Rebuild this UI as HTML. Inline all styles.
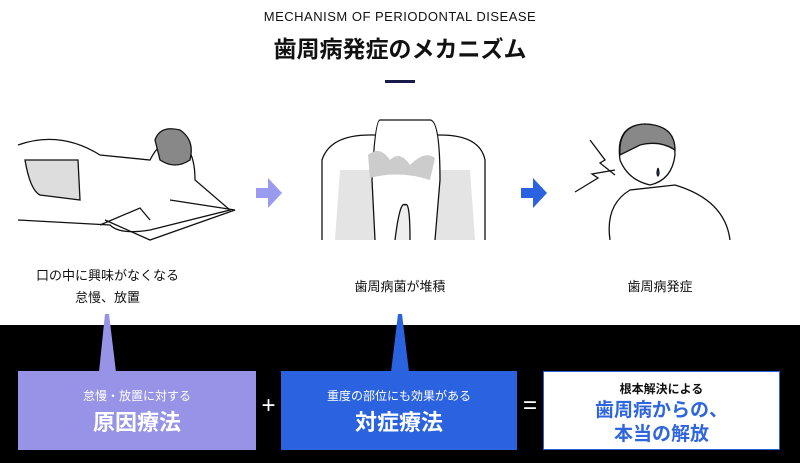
<!DOCTYPE html>
<html><head><meta charset="utf-8"><style>
body{margin:0;width:800px;height:463px;overflow:hidden;background:#fff;font-family:"Liberation Sans","Noto Sans CJK JP",sans-serif;position:relative}
.a{position:absolute}
.t{text-align:center;color:#111}
</style></head><body>
<div class="a t" style="left:0;width:800px;top:9px;font-size:13px;letter-spacing:0.5px">MECHANISM OF PERIODONTAL DISEASE</div>
<div class="a t" style="left:0;width:800px;top:30px;font-size:23px;font-weight:bold">歯周病発症のメカニズム</div>
<div class="a" style="left:385px;top:80px;width:30px;height:3px;background:#1a1a4a"></div>

<svg class="a" style="left:0;top:100px" width="800" height="150" viewBox="0 0 800 150">
<g fill="none" stroke="#111" stroke-width="1.3">
<path d="M18 45 Q60 30 100 55 L150 60 Q160 40 175 40 Q195 45 195 80 L230 110 L150 130 Q120 135 110 125 L18 120"/>
<path d="M25 60 Q30 90 40 95 L80 100 L78 60 Z" fill="#ddd"/>
<path d="M155 40 Q160 25 180 30 Q195 40 190 60 Q175 70 160 60 Z" fill="#888"/>
<path d="M105 120 L150 140 L235 110 L170 100"/>
<path d="M100 125 L140 108 L150 120"/>
</g>
<path d="M256 88 h12 v-10 l14 15 l-14 15 v-10 h-12z" fill="#9a9aee"/>
<path d="M521 88 h12 v-10 l14 15 l-14 15 v-10 h-12z" fill="#2a62e0"/>
<g stroke="#111" stroke-width="1.3">
<path d="M322 140 L322 60 Q330 35 370 35 L440 35 Q480 35 485 60 L485 140" fill="#fff"/>
<path d="M335 140 L340 70 L470 70 L475 140Z" fill="#e4e4e4" stroke="none"/>
<path d="M375 140 L372 80 Q375 20 380 20 L430 20 Q440 20 440 80 L435 140" fill="#fff"/>
<path d="M395 140 Q400 100 405 105 Q410 100 410 140" fill="#eee"/>
<path d="M368 55 Q380 45 390 60 Q400 50 410 65 Q425 50 435 58 L430 80 Q400 70 370 78Z" fill="#ccc" stroke="none"/>
</g>
<g fill="none" stroke="#111" stroke-width="1.3">
<path d="M590 40 L605 60 L600 63 L615 75 M575 92 L598 78 L592 74 L615 70"/>
<path d="M620 60 Q615 25 645 24 Q675 25 675 55 Q672 80 650 85 Q628 80 620 60Z" fill="#fff"/>
<path d="M620 55 Q618 25 645 24 Q675 25 675 50 Q660 40 640 45 Z" fill="#888"/>
<path d="M610 140 Q605 105 630 90 L675 85 Q725 100 730 140"/>
<path d="M658 68 q-2 6 0 8 q2 -2 0 -8" fill="#2a62e0"/>
</g>
</svg>

<div class="a t" style="left:0;width:215px;top:265px;font-size:13px;line-height:22px">口の中に興味がなくなる<br>怠慢、放置</div>
<div class="a t" style="left:300px;width:200px;top:276px;font-size:13px">歯周病菌が堆積</div>
<div class="a t" style="left:560px;width:200px;top:276px;font-size:13px">歯周病発症</div>

<div class="a" style="left:0;top:325px;width:800px;height:138px;background:#000"></div>
<svg class="a" style="left:0;top:310px" width="800" height="65">
<path d="M105 4 L109 4 L116 62 L99 62Z" fill="#9794e8"/>
<path d="M398 4 L402 4 L409 62 L391 62Z" fill="#2a62e0"/>
</svg>
<div class="a" style="left:18px;top:371px;width:238px;height:79px;background:#9794e8;color:#fff;text-align:center">
<div style="font-size:12px;margin-top:16px">怠慢・放置に対する</div><div style="font-size:22px;font-weight:bold;margin-top:1px">原因療法</div></div>
<div class="a" style="left:256px;width:25px;top:392px;color:#fff;font-size:24px;text-align:center">+</div>
<div class="a" style="left:281px;top:371px;width:236px;height:79px;background:#2a62e0;color:#fff;text-align:center">
<div style="font-size:12px;margin-top:16px">重度の部位にも効果がある</div><div style="font-size:22px;font-weight:bold;margin-top:1px">対症療法</div></div>
<div class="a" style="left:517px;width:26px;top:392px;color:#fff;font-size:24px;text-align:center">=</div>
<div class="a" style="left:543px;top:371px;width:235px;height:77px;background:#fff;border:1px solid #2a62e0;text-align:center">
<div style="font-size:12px;margin-top:8px;font-weight:bold;color:#111">根本解決による</div><div style="font-size:19px;font-weight:bold;color:#2f66e0;line-height:24px;margin-top:2px">歯周病からの、<br>本当の解放</div></div>
</body></html>
